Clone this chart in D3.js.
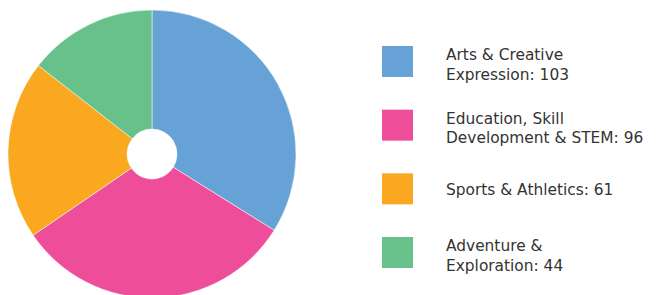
<!DOCTYPE html>
<html>
<head>
<meta charset="utf-8">
<script src="https://cdn.jsdelivr.net/npm/d3@7"></script>
<style>
  body { margin: 0; background: #fff; }
  text { font-family: "DejaVu Sans", Verdana, sans-serif; fill: #333; }
</style>
</head>
<body>
<script>
var width = 658,
    height = 295;

// data
var categories = ["Arts & Creative\nExpression", "Education, Skill\nDevelopment & STEM", "Sports & Athletics", "Adventure &\nExploration"];
var values = [103, 96, 61, 44];
var colors = ["#67a2d7", "#ee4e99", "#f9a81f", "#68c18a"];

var cx = 152, cy = 154,
    outerR = 144, innerR = 25;

var svg = d3.select("body").append("svg")
    .attr("width", width)
    .attr("height", height);

var pie = d3.pie()
    .sort(null)
    .value(function(d) { return d; });

var arc = d3.arc()
    .innerRadius(innerR)
    .outerRadius(outerR);

var color = d3.scaleOrdinal()
    .domain(d3.range(values.length))
    .range(colors);

var g = svg.append("g")
    .attr("transform", "translate(" + cx + "," + cy + ")");

g.selectAll("path")
  .data(pie(values))
  .enter().append("path")
    .attr("d", arc)
    .attr("fill", function(d, i) { return color(i); })
    .attr("stroke", "#fff")
    .attr("stroke-width", 0.5);

// legend
var legendY = d3.scalePoint()
    .domain(d3.range(values.length))
    .range([61.5, 252.5]);

var legend = svg.selectAll(".legend")
  .data(values)
  .enter().append("g")
    .attr("class", "legend")
    .attr("transform", function(d, i) { return "translate(382," + legendY(i) + ")"; });

legend.append("rect")
    .attr("x", 0)
    .attr("y", -15.5)
    .attr("width", 31)
    .attr("height", 31)
    .attr("fill", function(d, i) { return color(i); });

legend.each(function(d, i) {
  var lines = categories[i].split("\n");
  lines[lines.length - 1] += ": " + d;
  var lh = 19.5;
  var t = d3.select(this).append("text")
      .attr("x", 64)
      .attr("y", 6 - (lines.length - 1) * 7.5)
      .style("font-size", "15.4px");
  lines.forEach(function(l, j) {
    t.append("tspan")
        .attr("x", 64)
        .attr("dy", j === 0 ? 0 : lh)
        .text(l);
  });
});
</script>
</body>
</html>
